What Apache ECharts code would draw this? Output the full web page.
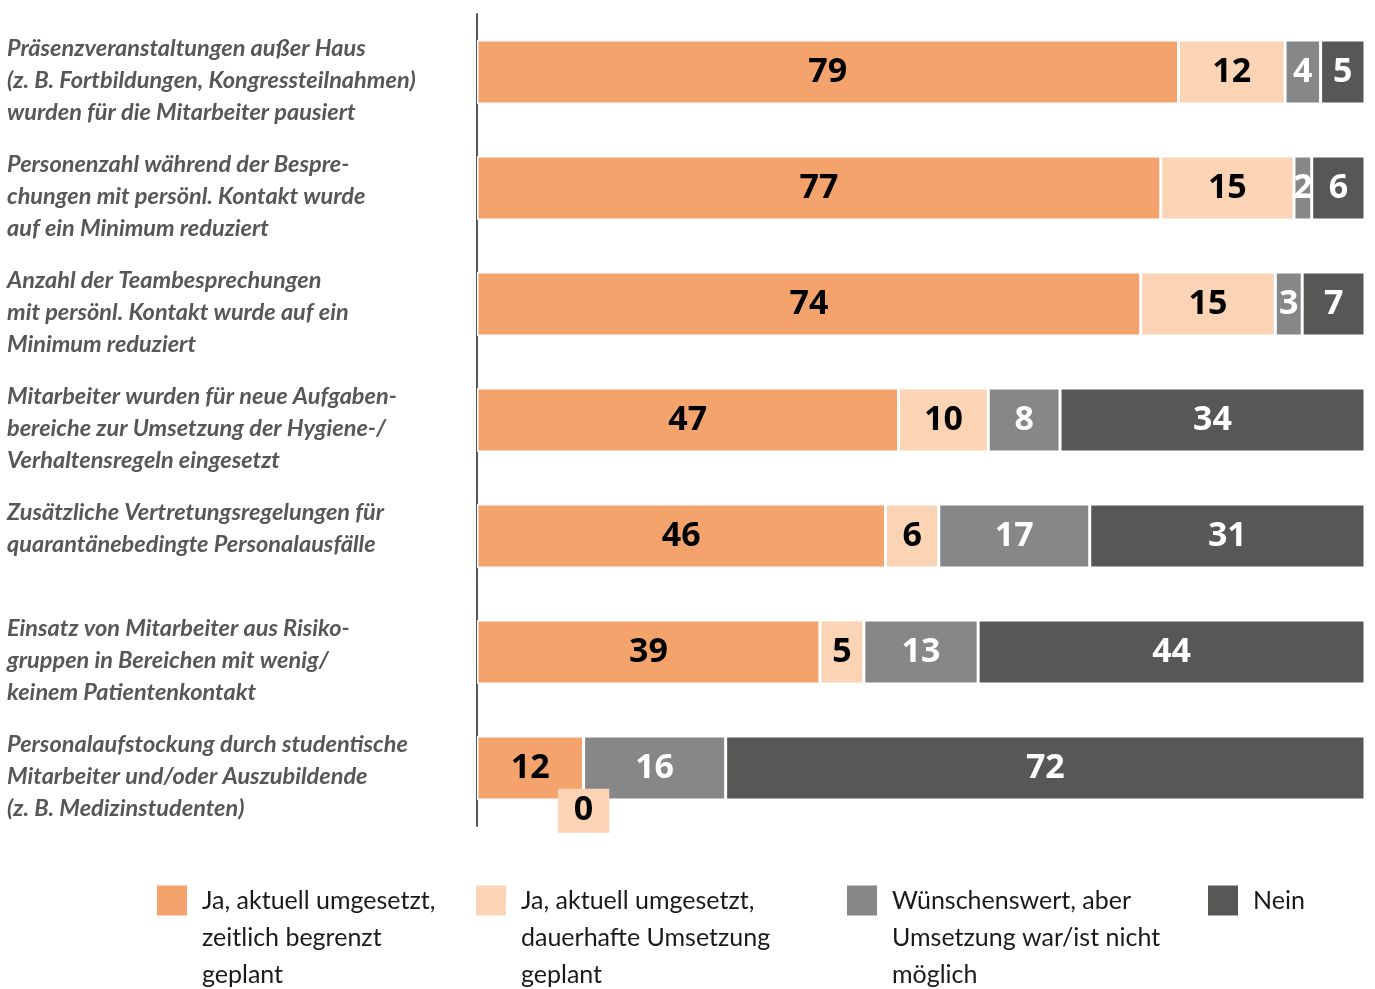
<!DOCTYPE html>
<html><head><meta charset="utf-8">
<script src="https://cdn.jsdelivr.net/npm/echarts@6/dist/echarts.min.js"></script>
<style>html,body{margin:0;padding:0;background:#fff}#c{width:1375px;height:989px}</style>
</head><body><div id="c"></div>
<script>
const categories = [
  "Präsenzveranstaltungen außer Haus\n(z. B. Fortbildungen, Kongressteilnahmen)\nwurden für die Mitarbeiter pausiert",
  "Personenzahl während der Bespre-\nchungen mit persönl. Kontakt wurde\nauf ein Minimum reduziert",
  "Anzahl der Teambesprechungen\nmit persönl. Kontakt wurde auf ein\nMinimum reduziert",
  "Mitarbeiter wurden für neue Aufgaben-\nbereiche zur Umsetzung der Hygiene-/\nVerhaltensregeln eingesetzt",
  "Zusätzliche Vertretungsregelungen für\nquarantänebedingte Personalausfälle",
  "Einsatz von Mitarbeiter aus Risiko-\ngruppen in Bereichen mit wenig/\nkeinem Patientenkontakt",
  "Personalaufstockung durch studentische\nMitarbeiter und/oder Auszubildende\n(z. B. Medizinstudenten)"
];
const seriesNames = [
  "Ja, aktuell umgesetzt,\nzeitlich begrenzt\ngeplant",
  "Ja, aktuell umgesetzt,\ndauerhafte Umsetzung\ngeplant",
  "Wünschenswert, aber\nUmsetzung war/ist nicht\nmöglich",
  "Nein"
];
const valsJaBegrenzt = [79, 77, 74, 47, 46, 39, 12];
const valsJaDauerhaft = [12, 15, 15, 10, 6, 5, 0];
const valsWuenschenswert = [4, 2, 3, 8, 17, 13, 16];
const valsNein = [5, 6, 7, 34, 31, 44, 72];

const allVals = [valsJaBegrenzt, valsJaDauerhaft, valsWuenschenswert, valsNein];
const colors = ['#f4a36d', '#fbd3b5', '#878787', '#575756'];
const labelColors = ['#000', '#000', '#fff', '#fff'];
const legendLeft = [152, 471, 842, 1203];
const totals = categories.map((c, i) => allVals.reduce((s, a) => s + a[i], 0));

const chart = echarts.init(document.getElementById('c'));
chart.setOption({
  animation: false,
  grid: { left: 477, right: 10, top: 14, bottom: 989 - 826 },
  xAxis: { type: 'value', min: 0, max: 100, show: false },
  yAxis: {
    type: 'category', data: categories, inverse: true,
    axisLine: { show: true, lineStyle: { color: '#555', width: 2 } },
    axisTick: { show: false },
    axisLabel: {
      interval: 0, align: 'left', margin: 470,
      formatter: s => {
        const lines = s.split('\n');
        while (lines.length < 3) lines.push(' ');
        return '{sp| }\n' + lines.map(l => '{t|' + l + '}').join('\n');
      },
      rich: {
        sp: { fontSize: 1, lineHeight: 16 },
        t: { fontFamily: 'Lato', fontStyle: 'italic', fontWeight: 'bold', fontSize: 23.5, lineHeight: 32, color: '#575757' }
      }
    }
  },
  legend: seriesNames.map((n, i) => ({
    data: [n], left: legendLeft[i], top: n.split('\n').length > 1 ? 803 : 877,
    icon: 'rect', itemWidth: 30, itemHeight: 30, selectedMode: false,
    itemStyle: { borderWidth: 0 },
    formatter: s => '\n'.repeat(s.split('\n').length - 1) + s,
    textStyle: { fontFamily: 'Lato', fontSize: 25, lineHeight: 37, color: '#1a1a1a', padding: [0, 0, 0, 10] }
  })),
  series: allVals.map((vals, si) => ({
    name: seriesNames[si], type: 'bar', stack: 'total', barWidth: 64,
    itemStyle: { color: colors[si], borderColor: '#fff', borderWidth: 1.5 },
    label: {
      show: true, position: 'inside', color: labelColors[si],
      fontFamily: 'Open Sans', fontWeight: 'bold', fontSize: 34,
      formatter: p => String(vals[p.dataIndex])
    },
    data: vals.map((v, i) => v === 0
      ? { value: 0, label: { position: 'bottom', distance: -12, backgroundColor: colors[si], padding: [5, 16, 5, 16] } }
      : v / totals[i] * 100)
  }))
});
</script>
</body></html>
